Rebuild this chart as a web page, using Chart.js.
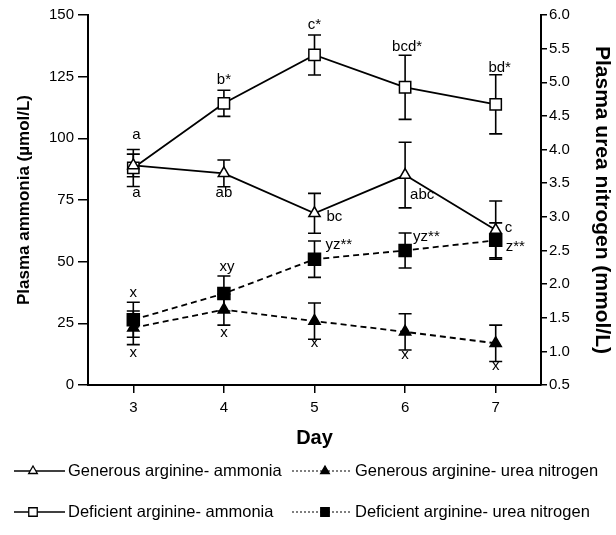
<!DOCTYPE html>
<html>
<head>
<meta charset="utf-8">
<script src="https://cdn.jsdelivr.net/npm/chart.js@4.4.1/dist/chart.umd.min.js"></script>
<style>
    body { margin: 0; background: #fff; }
    #wrap { width: 616px; height: 535px; position: relative; }
</style>
</head>
<body>
<div id="wrap"><canvas id="chart"></canvas></div>
<script>
const days = [3, 4, 5, 6, 7];

//..ammonia, umol/L (left axis)
const genAmmonia = [89, 85.8, 69.6, 85.1, 62.8];
const genAmmoniaSe = [4.6, 5.4, 8.1, 13.3, 11.8];
const defAmmonia = [88, 114.2, 133.8, 120.7, 113.8];
const defAmmoniaSe = [7.5, 5.3, 8.1, 13, 12];

//..urea nitrogen, mmol/L (right axis)
const genUrea = [1.35, 1.62, 1.45, 1.29, 1.12];
const genUreaSe = [0.25, 0.23, 0.27, 0.27, 0.27];
const defUrea = [1.47, 1.86, 2.37, 2.50, 2.65];
const defUreaSe = [0.26, 0.26, 0.27, 0.26, 0.26];

//..significance letters
const genAmmoniaTags = ['a', 'ab', 'bc', 'abc', 'c'];
const defAmmoniaTags = ['a', 'b*', 'c*', 'bcd*', 'bd*'];
const genUreaTags = ['x', 'x', 'x', 'x', 'x'];
const defUreaTags = ['x', 'xy', 'yz**', 'yz**', 'z**'];

const FONT = '"Liberation Sans", Arial, Helvetica, sans-serif';
Chart.defaults.font.family = FONT;
Chart.defaults.color = '#000';

const pts = (vals) => days.map((d, i) => ({ x: d, y: vals[i] }));

//..label offsets from the point, [dx, dy, align], per dataset
const tagOffsets = [
    [[3, 27], [0, 19], [12, 4, 'left'], [5, 20, 'left'], [9, -2, 'left']],
    [[0, 25], [0, 23], [0, 22], [0, 23], [0, 23]],
    [[3, -33], [0, -23], [0, -30], [2, -40], [4, -36]],
    [[0, -27], [3, -27], [11, -14, 'left'], [8, -14, 'left'], [10, 6, 'left']]
];

const errorBars = {
    id: 'errorBars',
    beforeDatasetsDraw(chart) {
        const ctx = chart.ctx;
        ctx.save();
        ctx.strokeStyle = '#000';
        ctx.lineWidth = 1.6;
        chart.data.datasets.forEach((ds, i) => {
            const ys = chart.scales[ds.yAxisID];
            chart.getDatasetMeta(i).data.forEach((pt, j) => {
                const v = ds.data[j].y, e = ds.errors[j];
                const top = ys.getPixelForValue(v + e);
                const bot = ys.getPixelForValue(v - e);
                ctx.beginPath();
                ctx.moveTo(pt.x, top); ctx.lineTo(pt.x, bot);
                ctx.moveTo(pt.x - 6.5, top); ctx.lineTo(pt.x + 6.5, top);
                ctx.moveTo(pt.x - 6.5, bot); ctx.lineTo(pt.x + 6.5, bot);
                ctx.stroke();
            });
        });
        ctx.restore();
    }
};

const tags = {
    id: 'tags',
    afterDatasetsDraw(chart) {
        const ctx = chart.ctx;
        ctx.save();
        ctx.font = '15px ' + FONT;
        ctx.fillStyle = '#000';
        ctx.textBaseline = 'middle';
        chart.data.datasets.forEach((ds, i) => {
            chart.getDatasetMeta(i).data.forEach((pt, j) => {
                const o = tagOffsets[i][j];
                ctx.textAlign = o[2] || 'center';
                ctx.fillText(ds.tags[j], pt.x + o[0], pt.y + o[1]);
            });
        });
        ctx.restore();
    }
};

//..legend with line samples, two rows at the bottom
const lineLegend = {
    id: 'lineLegend',
    afterDraw(chart) {
        const ctx = chart.ctx;
        const slots = [[14, 471], [292, 471], [14, 512], [292, 512]];
        chart.data.datasets.forEach((ds, i) => {
            const [x, y] = slots[i];
            const dotted = !!ds.borderDash.length;
            const lineEnd = dotted ? x + 60 : x + 51;
            const mx = dotted ? x + 33 : x + 19;
            ctx.save();
            ctx.strokeStyle = '#000';
            ctx.lineWidth = dotted ? 1.2 : 1.6;
            ctx.setLineDash(dotted ? [2, 2] : []);
            ctx.beginPath();
            ctx.moveTo(x, y); ctx.lineTo(lineEnd, y);
            ctx.stroke();
            ctx.setLineDash([]);
            ctx.fillStyle = ds.pointBackgroundColor;
            ctx.lineWidth = 1.3;
            Chart.helpers.drawPoint(ctx, {
                pointStyle: ds.pointStyle,
                radius: ds.pointStyle === 'rect' ? 6 : 5,
                rotation: 0,
                borderWidth: 1.3
            }, mx, y);
            ctx.fillStyle = '#000';
            ctx.font = '16.5px ' + FONT;
            ctx.textAlign = 'left';
            ctx.textBaseline = 'middle';
            ctx.fillText(ds.label, lineEnd + 3, y);
            ctx.restore();
        });
    }
};

new Chart(document.getElementById('chart'), {
    type: 'line',
    data: {
        datasets: [
            {
                label: 'Generous arginine- ammonia',
                data: pts(genAmmonia), errors: genAmmoniaSe, tags: genAmmoniaTags,
                yAxisID: 'y', borderColor: '#000', borderWidth: 1.8, borderDash: [],
                pointStyle: 'triangle', pointRadius: 6.5, pointBorderWidth: 1.5,
                pointBackgroundColor: '#fff', pointBorderColor: '#000'
            },
            {
                label: 'Generous arginine- urea nitrogen',
                data: pts(genUrea), errors: genUreaSe, tags: genUreaTags,
                yAxisID: 'y2', borderColor: '#000', borderWidth: 1.8, borderDash: [6, 4],
                pointStyle: 'triangle', pointRadius: 6.5, pointBorderWidth: 1.5,
                pointBackgroundColor: '#000', pointBorderColor: '#000'
            },
            {
                label: 'Deficient arginine- ammonia',
                data: pts(defAmmonia), errors: defAmmoniaSe, tags: defAmmoniaTags,
                yAxisID: 'y', borderColor: '#000', borderWidth: 1.8, borderDash: [],
                pointStyle: 'rect', pointRadius: 8, pointBorderWidth: 1.5,
                pointBackgroundColor: '#fff', pointBorderColor: '#000'
            },
            {
                label: 'Deficient arginine- urea nitrogen',
                data: pts(defUrea), errors: defUreaSe, tags: defUreaTags,
                yAxisID: 'y2', borderColor: '#000', borderWidth: 1.8, borderDash: [6, 4],
                pointStyle: 'rect', pointRadius: 8.5, pointBorderWidth: 1.5,
                pointBackgroundColor: '#000', pointBorderColor: '#000'
            }
        ]
    },
    options: {
        responsive: true,
        maintainAspectRatio: false,
        animation: false,
        events: [],
        layout: { padding: { left: 0, right: 0, top: 15, bottom: 80 } },
        plugins: { legend: { display: false }, tooltip: { enabled: false } },
        scales: {
            x: {
                type: 'linear', min: 2.5, max: 7.5,
                afterFit: s => { s.height = 70; },
                afterBuildTicks: s => { s.ticks = days.map(v => ({ value: v })); },
                ticks: { padding: 6, font: { size: 15 } },
                grid: { drawOnChartArea: false, tickLength: 8, color: '#000', lineWidth: 1.5 },
                border: { color: '#000', width: 2 },
                title: { display: true, text: 'Day', font: { size: 20, weight: 'bold' }, padding: { top: 0, bottom: 5 } }
            },
            y: {
                position: 'left', min: 0, max: 150,
                afterFit: s => { s.width = 88; },
                ticks: { stepSize: 25, padding: 4, font: { size: 15 } },
                grid: { drawOnChartArea: false, tickLength: 10, color: '#000', lineWidth: 1.5 },
                border: { color: '#000', width: 2 },
                title: { display: true, text: 'Plasma ammonia (\u00b5mol/L)', font: { size: 17, weight: 'bold' }, padding: { top: 14, bottom: 0 } }
            },
            y2: {
                position: 'right', min: 0.5, max: 6.0,
                afterFit: s => { s.width = 75; },
                ticks: { stepSize: 0.5, padding: 2, font: { size: 15 }, callback: v => v.toFixed(1) },
                grid: { drawOnChartArea: false, tickLength: 6, color: '#000', lineWidth: 1.5 },
                border: { color: '#000', width: 2 },
                title: { display: true, text: 'Plasma urea nitrogen (mmol/L)', font: { size: 21, weight: 'bold' }, padding: { top: 2, bottom: 0 } }
            }
        }
    },
    plugins: [errorBars, tags, lineLegend]
});
</script>
</body>
</html>
